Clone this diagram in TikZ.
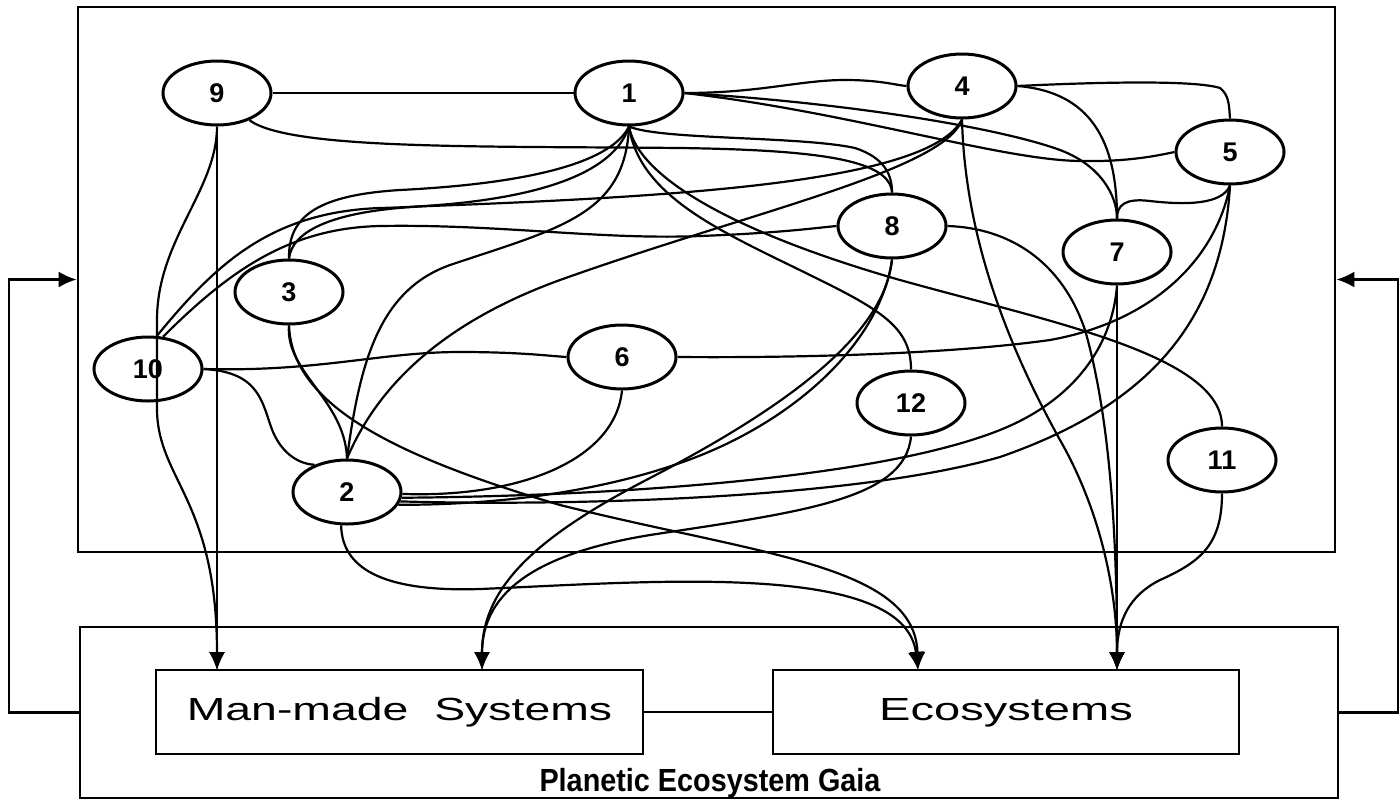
\documentclass[tikz,border=0pt]{standalone}
\usepackage{fontspec}
\usepackage{graphicx}
\setmainfont{Liberation Sans}
\usetikzlibrary{arrows.meta,shapes.geometric}
\pgfdeclarelayer{bg}
\pgfsetlayers{bg,main}

\begin{document}
\begin{tikzpicture}[x=1pt,y=-1pt,
  sysnode/.style={ellipse,draw,line width=3pt,fill=white,minimum width=108pt,
    minimum height=64pt,inner sep=0pt,font=\fontsize{27}{27}\selectfont\bfseries},
  link/.style={line width=2.2pt},
  flow/.style={line width=2.2pt,-{Latex[length=18pt,width=16pt]}},
  frame/.style={draw,line width=2.8pt,rectangle,inner sep=0pt},
  sysbox/.style={draw,line width=1.8pt,rectangle,inner sep=0pt,
    font=\fontsize{32}{32}\selectfont,text height=23pt,text depth=6pt}
]
\useasboundingbox (0,0) rectangle (1399,801);

% outer frames
\node[frame,minimum width=1257pt,minimum height=545pt] (top) at (706.5,279.5) {};
\node[frame,minimum width=1258pt,minimum height=171pt] (gaia) at (709,712.5) {};
\node[font=\fontsize{32}{32}\selectfont\bfseries,anchor=base] (gaialabel) at (710,791)
  {\scalebox{0.9}[1]{Planetic Ecosystem Gaia}};

% the two subsystems
\node[sysbox,minimum width=487pt,minimum height=84pt] (mms) at (399.5,712)
  {\scalebox{1.45}[1]{Man-made\ \ Systems}};
\node[sysbox,minimum width=466pt,minimum height=84pt] (eco) at (1006,712)
  {\scalebox{1.47}[1]{Ecosystems}};
\coordinate (mmsA) at (217,670);
\coordinate (mmsB) at (482,670);
\coordinate (ecoA) at (918,670);
\coordinate (ecoB) at (1117,670);

% interacting factors
\node[sysnode] (n9)  at (217,93)  {9};
\node[sysnode] (n1)  at (629,93)  {1};
\node[sysnode] (n4)  at (962,86)  {4};
\node[sysnode] (n5)  at (1230,152) {5};
\node[sysnode] (n8)  at (892,226) {8};
\node[sysnode] (n7)  at (1117,252) {7};
\node[sysnode] (n3)  at (289,292) {3};
\node[sysnode] (n10) at (148,369) {10};
\node[sysnode] (n6)  at (622,357) {6};
\node[sysnode] (n12) at (911,403) {12};
\node[sysnode] (n2)  at (347,492) {2};
\node[sysnode] (n11) at (1222,460) {11};

\begin{pgfonlayer}{bg}
% feedback loops and the link between the subsystems
\draw[flow] (gaia.west) -- ++(-70,0) |- (top.west);
\draw[flow] (gaia.east) -- ++(59,0) |- (top.east);
\draw[link] (mms.east) -- (eco.west);

% links from 9
\draw[link] (n9.east) -- (n1.west);
\draw[link] (n9.-40) .. controls (290,150) and (480,146) .. (680,148)
  .. controls (820,150) and (890,160) .. (n8.north);
\draw[flow] (n9.south) -- (mmsA);

% links from 1
\draw[link] (n1.east) .. controls (760,93) and (800,80) .. (845,80)
  .. controls (880,80) and (895,85) .. (n4.west);
\draw[link] (n1.east) .. controls (850,112) and (1000,160) .. (1080,161)
  .. controls (1130,162) and (1160,155) .. (n5.west);
\draw[link] (n1.east) .. controls (850,103) and (1000,128) .. (1060,150)
  .. controls (1100,165) and (1117,195) .. (n7.north);
\draw[link] (n1.south) .. controls (660,140) and (800,136) .. (855,148)
  .. controls (885,158) and (892,175) .. (n8.north);
\draw[link] (n1.south) .. controls (640,185) and (760,240) .. (900,280)
  .. controls (1050,322) and (1222,355) .. (n11.north);
\draw[link] (n1.south) .. controls (640,200) and (730,235) .. (820,280)
  .. controls (885,312) and (911,330) .. (n12.north);

% links into 1 and 4 from the left
\draw[link] (n3.north) .. controls (288,215) and (320,195) .. (400,190)
  .. controls (520,184) and (610,165) .. (n1.south);
\draw[link] (n10.75) .. controls (215,265) and (270,212) .. (380,208)
  .. controls (500,205) and (610,185) .. (n1.south);
\draw[link] (n2.north) .. controls (360,360) and (380,290) .. (450,265)
  .. controls (560,228) and (625,215) .. (n1.south);
\draw[link] (n3.north) .. controls (292,232) and (330,210) .. (430,206)
  .. controls (700,196) and (930,180) .. (n4.south);
\draw[link] (n2.north) .. controls (380,380) and (450,320) .. (560,280)
  .. controls (750,212) and (945,170) .. (n4.south);
\draw[link] (n10.65) .. controls (230,270) and (290,228) .. (380,226)
  .. controls (500,224) and (600,240) .. (700,236)
  .. controls (780,233) and (815,228) .. (n8.west);

% links from 4, 5 and 7
\draw[link] (n4.east) .. controls (1100,82) and (1195,80) .. (1220,88)
  .. controls (1229,95) and (1229,105) .. (n5.north);
\draw[link] (n4.east) .. controls (1090,92) and (1117,140) .. (n7.north);
\draw[flow] (n4.south) .. controls (965,240) and (1010,350) .. (1060,440)
  .. controls (1100,510) and (1117,590) .. (ecoB);
\draw[link] (n5.south) .. controls (1222,205) and (1185,205) .. (1150,201)
  .. controls (1125,198) and (1117,205) .. (n7.north);
\draw[link] (n5.south) .. controls (1215,262) and (1150,322) .. (1050,340)
  .. controls (950,354) and (800,358) .. (n6.east);
\draw[link] (n5.south) .. controls (1222,320) and (1150,405) .. (1000,457)
  .. controls (850,500) and (560,506) .. (n2.-10);
\draw[link] (n7.south) .. controls (1112,350) and (1070,402) .. (1000,430)
  .. controls (880,478) and (620,496) .. (n2.-6);
\draw[flow] (n7.south) -- (ecoB);

% links from 8, 11 and 12
\draw[flow] (n8.east) .. controls (1010,228) and (1062,262) .. (1085,330)
  .. controls (1105,400) and (1117,500) .. (ecoB);
\draw[flow] (n11.south) .. controls (1222,545) and (1200,562) .. (1160,580)
  .. controls (1130,595) and (1117,620) .. (ecoB);
\draw[flow] (n12.south) .. controls (905,500) and (800,512) .. (650,535)
  .. controls (540,553) and (482,590) .. (mmsB);
\draw[flow] (n8.south) .. controls (885,330) and (800,400) .. (650,478)
  .. controls (540,535) and (482,585) .. (mmsB);
\draw[link] (n8.south) .. controls (880,345) and (790,425) .. (680,463)
  .. controls (580,498) and (470,505) .. (n2.-14);

% links from 6, 10, 3 and 2
\draw[link] (n6.south) .. controls (615,460) and (520,498) .. (n2.-2);
\draw[link] (n10.east) .. controls (320,372) and (380,352) .. (460,352)
  .. controls (520,352) and (550,356) .. (n6.west);
\draw[link] (n10.east) .. controls (262,372) and (262,405) .. (273,432)
  .. controls (283,455) and (300,464) .. (n2.140);
\draw[link] (n3.south) .. controls (285,372) and (345,400) .. (n2.north);
\draw[flow] (n3.south) .. controls (292,400) and (380,452) .. (560,505)
  .. controls (760,555) and (915,565) .. (ecoA);
\draw[flow] (n2.-100) .. controls (342,572) and (390,592) .. (480,589)
  .. controls (650,582) and (905,560) .. (ecoA);
\end{pgfonlayer}

% the link from 9 that runs across 10 down to the man-made systems
\draw[flow] (n9.south) .. controls (217,190) and (157,240) .. (157,320)
  -- (157,410) .. controls (158,480) and (217,500) .. (mmsA);
\end{tikzpicture}
\end{document}
